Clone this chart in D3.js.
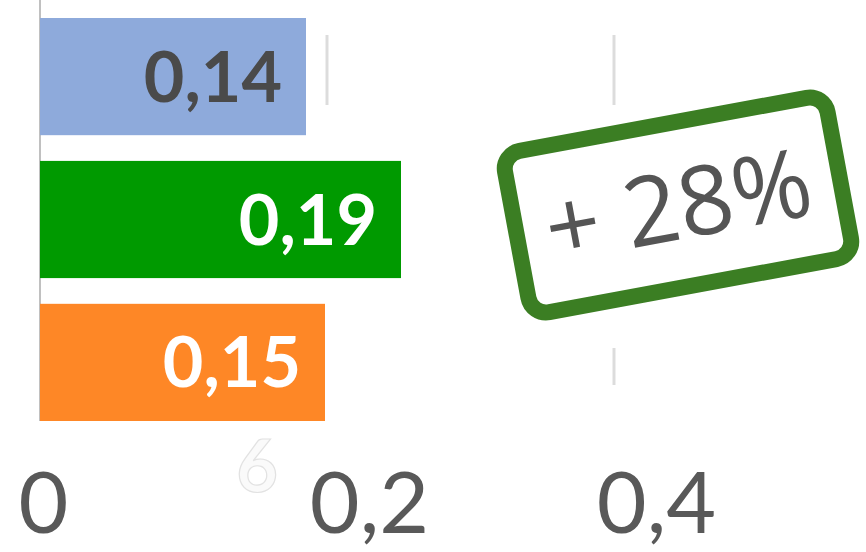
<!DOCTYPE html>
<html>
<head>
<meta charset="utf-8">
<script src="https://cdn.jsdelivr.net/npm/d3@7/dist/d3.min.js"></script>
<style>
  html, body { margin: 0; padding: 0; background: #ffffff; }
  svg { display: block; }
</style>
</head>
<body>
<script>
// ---- data ----
const categories = ["Série A", "Série B", "Série C"];
const values = [0.14, 0.19, 0.15];
const valueLabels = ["0,14", "0,19", "0,15"];
const axisTicks = [0, 0.2, 0.4];
const axisTickLabels = ["0", "0,2", "0,4"];
const annotationText = "+ 28%";
const strayLabel = "6";

// ---- styles ----
const barColors = ["#8eaadb", "#009a00", "#fe8726"];
const labelColors = ["#4a4a4a", "#ffffff", "#ffffff"];

const W = 866, H = 552;
const svg = d3.select("body").append("svg").attr("width", W).attr("height", H);

// axis scale (gridlines / ticks)
const xAxis = d3.scaleLinear().domain([0, 0.4]).range([40, 614]);
// bar length scale
const xBar = d3.scaleLinear().domain([0, 0.2]).range([40, 420]);
const y = d3.scaleBand().domain(categories).range([18, 421]).paddingInner(0.18).paddingOuter(0);

// gridline fragments
const gridSegs = [
  {v: 0.2, y1: 35, y2: 105},
  {v: 0.4, y1: 35, y2: 105},
  {v: 0.4, y1: 348, y2: 385}
];
svg.append("g").selectAll("line").data(gridSegs).join("line")
  .attr("x1", d => xAxis(d.v)).attr("x2", d => xAxis(d.v))
  .attr("y1", d => d.y1).attr("y2", d => d.y2)
  .attr("stroke", "#dcdcdc").attr("stroke-width", 3);

// vertical category axis line
svg.append("line")
  .attr("x1", xAxis(0)).attr("x2", xAxis(0))
  .attr("y1", 0).attr("y2", 421)
  .attr("stroke", "#c0c0c0").attr("stroke-width", 2);

// bars
svg.append("g").selectAll("rect").data(values).join("rect")
  .attr("x", xBar(0))
  .attr("y", (d, i) => y(categories[i]))
  .attr("width", d => xBar(d) - xBar(0))
  .attr("height", y.bandwidth())
  .attr("fill", (d, i) => barColors[i]);

// value labels
svg.append("g").selectAll("text").data(values).join("text")
  .attr("x", d => xBar(d) - 24)
  .attr("y", (d, i) => y(categories[i]) + y.bandwidth() / 2 + 25)
  .attr("text-anchor", "end")
  .attr("font-family", "Lato, 'Open Sans', sans-serif")
  .attr("font-weight", 700)
  .attr("font-size", 70)
  .attr("fill", (d, i) => labelColors[i])
  .text((d, i) => valueLabels[i]);

// bottom axis tick labels
const axisG = svg.append("g").attr("transform", "translate(0,533)")
  .call(d3.axisBottom(xAxis).tickValues(axisTicks).tickSize(0)
    .tickFormat((d, i) => axisTickLabels[i]));
axisG.select(".domain").remove();
axisG.selectAll("text")
  .attr("y", 0).attr("dy", 0)
  .attr("dx", d => d === 0 ? 3 : 42)
  .attr("font-family", "Lato, sans-serif")
  .attr("font-size", 86)
  .attr("fill", "#595959");

// faint stray label
svg.append("text")
  .attr("x", xAxis(0.15) + 2).attr("y", 492)
  .attr("text-anchor", "middle")
  .attr("font-family", "Lato, sans-serif")
  .attr("font-weight", 700)
  .attr("font-size", 72)
  .attr("fill", "#fafafa")
  .attr("stroke", "#e2e2e2")
  .attr("stroke-width", 1.2)
  .text(strayLabel);

// stamp annotation
const stamp = svg.append("g").attr("transform", "translate(678,205) rotate(-10.5)");
stamp.append("rect")
  .attr("x", -164).attr("y", -82).attr("width", 328).attr("height", 164)
  .attr("rx", 18).attr("ry", 18)
  .attr("fill", "#ffffff")
  .attr("stroke", "#3b7e23").attr("stroke-width", 16);
stamp.append("text")
  .attr("x", 0).attr("y", 34)
  .attr("text-anchor", "middle")
  .attr("font-family", "'Open Sans', sans-serif")
  .attr("font-size", 96)
  .attr("fill", "#555555")
  .text(annotationText);
</script>
</body>
</html>
